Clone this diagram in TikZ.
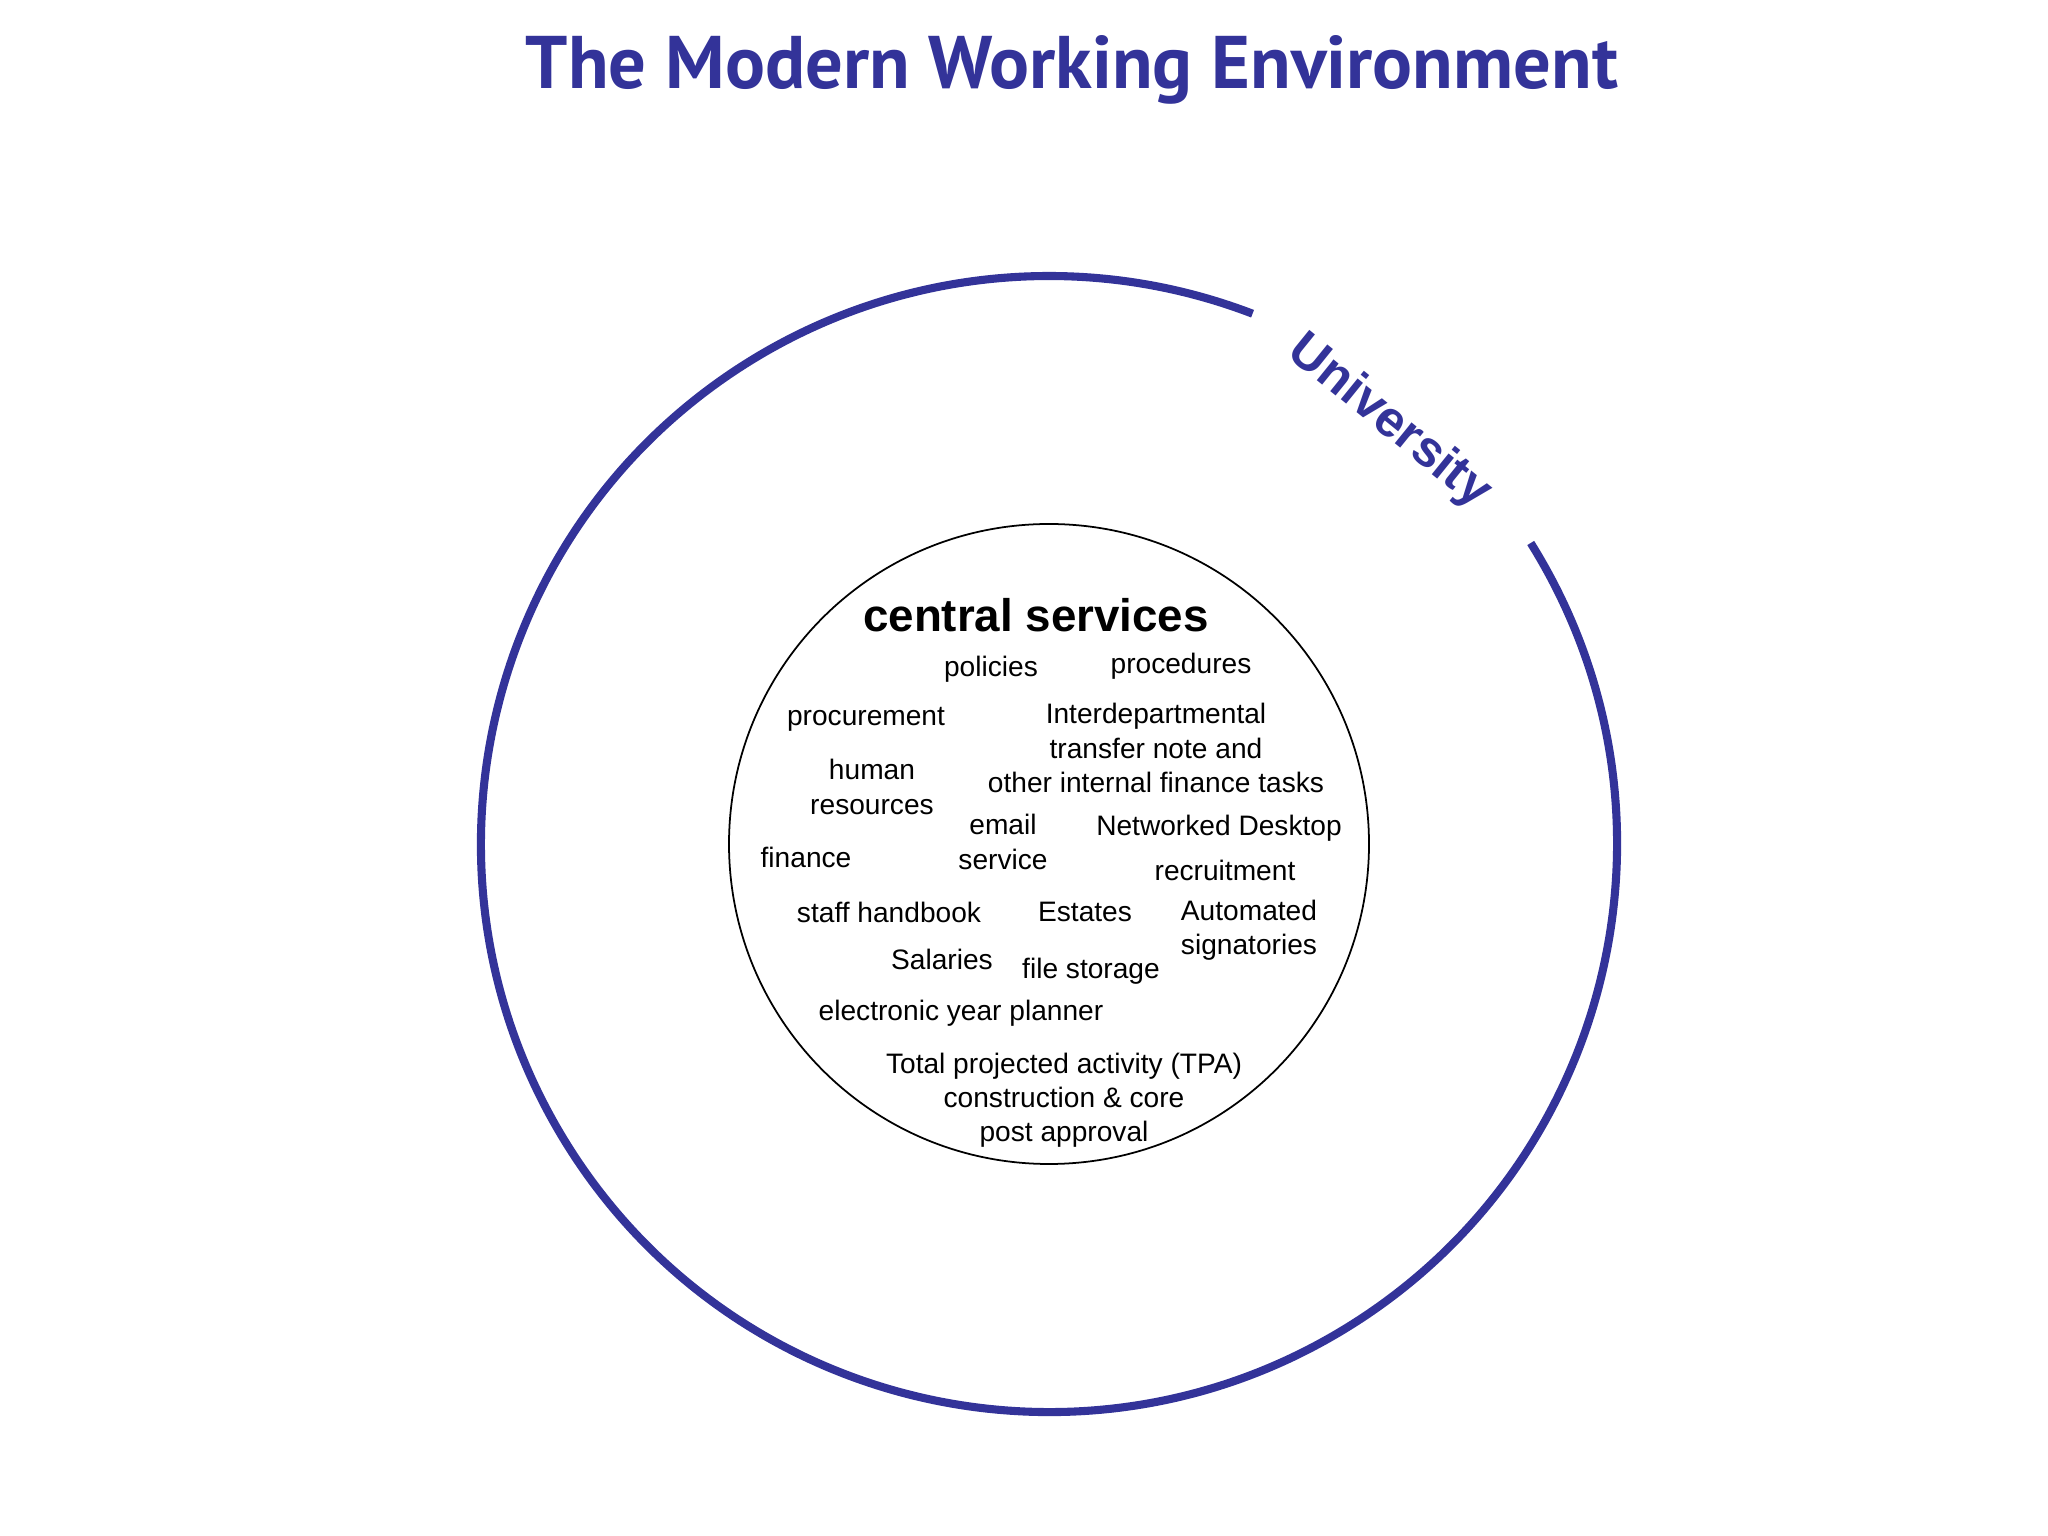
\documentclass[tikz,border=0pt]{standalone}
\usepackage{fontspec}
\setmainfont{Liberation Sans}
\newfontfamily\titlefont{PT Sans}
\definecolor{unidark}{RGB}{51,51,153}
\tikzset{
  item/.style={font=\fontsize{8}{9.7}\selectfont, align=center, inner sep=0pt},
  ring/.style={draw=unidark, line width=2.3pt},
}
\begin{document}
\begin{tikzpicture}[x=0.01cm,y=0.01cm]
\useasboundingbox (0,0) rectangle (2048,1536);
% title
\node[font=\titlefont\bfseries\fontsize{21.2}{25}\selectfont, text=unidark, anchor=base] (title) at (1072,1447) {The Modern Working Environment};

% rings
\coordinate (centre) at (1049,692);
\draw[ring] (centre) ++(32:568) arc[start angle=32, end angle=-291, radius=568];
\draw[black, line width=0.5pt] (centre) circle[radius=320];
\node[font=\bfseries\fontsize{14.4}{16}\selectfont, text=unidark, rotate=-39] (uni) at (1389,1114) {University};

% central services
\node[font=\bfseries\fontsize{13}{15}\selectfont] (cs) at (1036,921) {central services};
\node[item] (pol) at (991,867) {policies};
\node[item] (proc) at (1181,870) {procedures};
\node[item] (procure) at (866,817) {procurement};
\node[item] (idt) at (1156,788) {Interdepartmental\\transfer note and\\other internal finance tasks};
\node[item] (hr) at (872,749) {human\\resources};
\node[item] (email) at (1003,694) {email\\service};
\node[item] (nd) at (1219,708) {Networked Desktop};
\node[item] (fin) at (806,679) {finance};
\node[item] (recr) at (1225,666) {recruitment};
\node[item] (staff) at (889,624) {staff handbook};
\node[item] (est) at (1085,624) {Estates};
\node[item] (auto) at (1249,606) {Automated\\signatories};
\node[item] (sal) at (942,577) {Salaries};
\node[item] (file) at (1091,565) {file storage};
\node[item] (eyp) at (961,523) {electronic year planner};
\node[item] (tpa) at (1064,436) {Total projected activity (TPA)\\construction \& core\\post approval};
\end{tikzpicture}
\end{document}
